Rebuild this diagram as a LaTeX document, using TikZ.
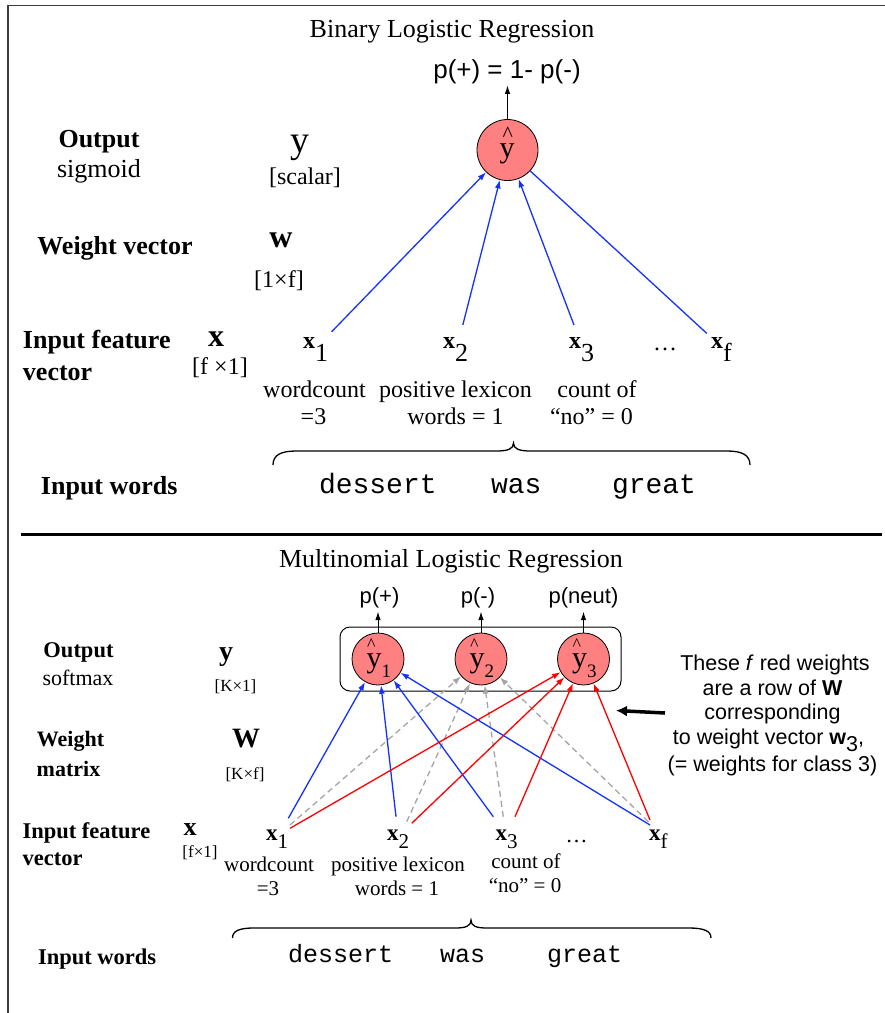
\documentclass[tikz,border=0pt]{standalone}
\usepackage{fontspec}
\setmainfont{Liberation Serif}
\setsansfont{Liberation Sans}
\setmonofont{Liberation Mono}
\usetikzlibrary{arrows.meta,calc}
\newcommand\fsz[1]{\fontsize{#1}{#1}\selectfont}
\definecolor{salmon}{RGB}{255,128,128}
\definecolor{lblue}{RGB}{20,50,255}
\definecolor{lred}{RGB}{255,0,0}
\definecolor{lgray}{RGB}{165,165,165}
\definecolor{frame}{RGB}{60,60,60}
\begin{document}
\begin{tikzpicture}[x=1pt,y=-1pt,
  t/.style={inner sep=0pt,outer sep=0pt,anchor=base},
  tw/.style={inner sep=0pt,outer sep=0pt,anchor=base west},
  neuron/.style={circle,draw=black,line width=0.8pt,fill=salmon,inner sep=0pt},
  tipsmall/.style={-{Latex[length=8.5pt,width=6pt]}},
  wblue/.style={draw=lblue,line width=1.3pt},
  wred/.style={draw=lred,line width=1.3pt},
  wgray/.style={draw=lgray,line width=1.3pt,dash pattern=on 6pt off 4pt},
  outarrow/.style={draw=black,line width=1pt,-{Latex[length=8.5pt,width=5.5pt]}},
  bracepath/.style={draw=black,line width=1.3pt}
]
\useasboundingbox (0,0) rectangle (885,1013);
% frame and separator
\draw[frame,line width=1.5pt] (8,1013) -- (8,5.5) -- (885,5.5);
\draw[black,line width=3pt] (21,534.5) -- (882,534.5);

%================ TOP: Binary =================
\node[t,font=\fsz{26}] (title1) at (452,37) {Binary Logistic Regression};
\node[t,font=\sffamily\fsz{26}] (pout) at (507,78) {p(+) = 1- p(-)};
\node[neuron,minimum size=61pt] (yh) at (507.5,150) {};
\node[tw,font=\fsz{30}] (yhy) at (499.5,157) {\makebox[0pt][l]{\hspace{3.2pt}\raisebox{15.5pt}{\fsz{22}\textasciicircum}}y};
\draw[outarrow] (yh.north) -- ([yshift=-2pt]yh.north |- pout.south);

\node[t,font=\fsz{26}\bfseries] (lout) at (99,147) {Output};
\node[t,font=\fsz{26}] (lsig) at (99,177) {sigmoid};
\node[t,font=\fsz{38}] (ly) at (300,152) {y};
\node[t,font=\fsz{24}] (lscal) at (305,184) {[scalar]};
\node[t,font=\fsz{26}\bfseries] (lwv) at (115,254) {Weight vector};
\node[t,font=\fsz{32}\bfseries] (lw) at (281,247) {w};
\node[t,font=\fsz{24}] (l1f) at (279,287) {[1×f]};
\node[tw,font=\fsz{26}\bfseries] (lif) at (23,348) {Input feature};
\node[tw,font=\fsz{26}\bfseries] (lvec) at (23,380) {vector};
\node[t,font=\fsz{32}\bfseries] (lx) at (216,346) {x};
\node[t,font=\fsz{24}] (lf1) at (220,374) {[f ×1]};

\node[tw,font=\fsz{24}] (x1) at (303,348) {\textbf{x}\raisebox{-13pt}{\fsz{26}1}};
\node[tw,font=\fsz{24}] (x2) at (443,348) {\textbf{x}\raisebox{-13pt}{\fsz{26}2}};
\node[tw,font=\fsz{24}] (x3) at (569,348) {\textbf{x}\raisebox{-13pt}{\fsz{26}3}};
\node[t,font=\fsz{24}] (xdots) at (665,350) {…};
\node[tw,font=\fsz{24}] (xf) at (711,348) {\textbf{x}\raisebox{-13pt}{\fsz{26}f}};

\node[t,font=\fsz{24}] (d1a) at (314.5,397) {wordcount};
\node[t,font=\fsz{24}] (d1b) at (313.5,424) {=3};
\node[t,font=\fsz{24}] (d2a) at (455.5,397) {positive lexicon};
\node[t,font=\fsz{24}] (d2b) at (455.5,424) {words = 1};
\node[t,font=\fsz{24}] (d3a) at (597,397) {count of};
\node[t,font=\fsz{24}] (d3b) at (591.5,424) {“no” = 0};

\draw[bracepath] (273,465) .. controls (273,455) and (281,451) .. (296,451) -- (496,451)
  .. controls (508,451) and (513.5,449) .. (513.5,443)
  .. controls (513.5,449) and (519,451) .. (531,451) -- (727,451)
  .. controls (742,451) and (750,455) .. (750,465);

\node[tw,font=\fsz{26}\bfseries] (liw) at (41,494) {Input words};
\node[tw,font=\ttfamily\fsz{28}] (w1) at (319,493) {dessert};
\node[tw,font=\ttfamily\fsz{28}] (w2) at (491,493) {was};
\node[tw,font=\ttfamily\fsz{28}] (w3) at (612,493) {great};

\coordinate (s1) at (331.7,331.7);
\coordinate (s2) at (462.8,325);
\coordinate (s3) at (574,325);
\coordinate (sf) at (706.7,333.3);
\draw[wblue,tipsmall] (s1) -- (yh);
\draw[wblue,tipsmall] (s2) -- (yh);
\draw[wblue,tipsmall] (s3) -- (yh);
\draw[wblue] (sf) -- (yh);

%================ BOTTOM: Multinomial =================
\node[t,font=\fsz{26}] (title2) at (451,567) {Multinomial Logistic Regression};
\node[t,font=\sffamily\fsz{22}] (p1) at (379.5,603) {p(+)};
\node[t,font=\sffamily\fsz{22}] (p2) at (478,603) {p(-)};
\node[t,font=\sffamily\fsz{22}] (p3) at (583.5,603) {p(neut)};

\draw[black,line width=1pt,rounded corners=10pt] (340,627) rectangle (621,691);
\node[neuron,minimum size=52pt] (o1) at (378,659) {};
\node[neuron,minimum size=52pt] (o2) at (481,659) {};
\node[neuron,minimum size=52pt] (o3) at (583.5,659) {};
\foreach \n/\c/\k in {o1/378/1,o2/481/2,o3/583.5/3}{
  \node[tw,font=\fsz{30}] (\n y) at (\c-11.5,667)
    {\makebox[0pt][l]{\hspace{0.5pt}\raisebox{17pt}{\fsz{18}\textasciicircum}}y\raisebox{-10pt}{\fsz{19}\k}};
}
\draw[outarrow] (o1.north) -- ([yshift=-4pt]o1.north |- p1.south);
\draw[outarrow] (o2.north) -- ([yshift=-4pt]o2.north |- p2.south);
\draw[outarrow] (o3.north) -- ([yshift=-4pt]o3.north |- p3.south);

\node[t,font=\fsz{22.5}\bfseries] (bout) at (78.5,657) {Output};
\node[t,font=\fsz{22}] (bsoft) at (78,685) {softmax};
\node[t,font=\fsz{28}\bfseries] (by) at (226,660) {y};
\node[t,font=\fsz{17}] (bk1) at (235.5,691) {[K×1]};
\node[t,font=\fsz{22}\bfseries] (bwe) at (70.5,746) {Weight};
\node[t,font=\fsz{22}\bfseries] (bma) at (68.5,776) {matrix};
\node[t,font=\fsz{28}\bfseries] (bW) at (246,747) {W};
\node[t,font=\fsz{17}] (bkf) at (245,779) {[K×f]};
\node[tw,font=\fsz{22.5}\bfseries] (bif) at (22.6,838) {Input feature};
\node[tw,font=\fsz{22.5}\bfseries] (bvec) at (22.6,865) {vector};
\node[t,font=\fsz{26}\bfseries] (bx) at (190,835) {x};
\node[t,font=\fsz{17}] (bf1) at (200,857) {[f×1]};

\node[tw,font=\fsz{23}] (bx1) at (266,840) {\textbf{x}\raisebox{-8pt}{\fsz{21}1}};
\node[tw,font=\fsz{23}] (bx2) at (387,840) {\textbf{x}\raisebox{-8pt}{\fsz{21}2}};
\node[tw,font=\fsz{23}] (bx3) at (495.5,840) {\textbf{x}\raisebox{-8pt}{\fsz{21}3}};
\node[t,font=\fsz{22}] (bdots) at (576.5,842) {…};
\node[tw,font=\fsz{23}] (bxf) at (649,840) {\textbf{x}\raisebox{-8pt}{\fsz{21}f}};

\node[t,font=\fsz{21}] (e1a) at (269,871) {wordcount};
\node[t,font=\fsz{21}] (e1b) at (268,895) {=3};
\node[t,font=\fsz{21}] (e2a) at (398,871) {positive lexicon};
\node[t,font=\fsz{21}] (e2b) at (397,895) {words = 1};
\node[t,font=\fsz{21}] (e3a) at (526,868) {count of};
\node[t,font=\fsz{21}] (e3b) at (525,892) {“no” = 0};

\draw[bracepath] (232.5,938) .. controls (232.5,931) and (239,928) .. (254,928) -- (455,928)
  .. controls (466,928) and (471,926) .. (471,920)
  .. controls (471,926) and (476,928) .. (487,928) -- (689,928)
  .. controls (704,928) and (711,931) .. (711,938);

\node[tw,font=\fsz{22.5}\bfseries] (biw) at (38,964) {Input words};
\node[tw,font=\ttfamily\fsz{25}] (v1) at (288,962) {dessert};
\node[tw,font=\ttfamily\fsz{25}] (v2) at (440,962) {was};
\node[tw,font=\ttfamily\fsz{25}] (v3) at (547,962) {great};

% connectors
\coordinate (b1) at (288.3,818.3);  \coordinate (g1) at (290,825);    \coordinate (r1) at (290,828.3);
\coordinate (b2) at (396,816.7);    \coordinate (g2) at (406.7,821.7);\coordinate (r2) at (411.7,823.3);
\coordinate (b3) at (493.3,816.7);  \coordinate (g3) at (503.3,816.7);\coordinate (r3) at (515,816.7);
\coordinate (bf) at (650,825);      \coordinate (gf) at (648.3,821.7);\coordinate (rf) at (650,820);
\foreach \s in {g1,g2,g3,gf}{ \draw[wgray,tipsmall] (\s) -- (o2); }
\foreach \s in {b1,b2,b3,bf}{ \draw[wblue,tipsmall] (\s) -- (o1); }
\foreach \s in {r1,r2,r3,rf}{ \draw[wred,tipsmall] (\s) -- (o3); }

% right annotation
\node[t,font=\sffamily\fsz{21.5}] (n1) at (775,670) {These \textit{f} red weights};
\node[t,font=\sffamily\fsz{21.5}] (n2) at (772.5,695) {are a row of \textbf{W}};
\node[t,font=\sffamily\fsz{21.5}] (n3) at (772.5,719) {corresponding};
\node[t,font=\sffamily\fsz{21.5}] (n4) at (768.5,744) {to weight vector \textbf{w}\raisebox{-7pt}{3},};
\node[t,font=\sffamily\fsz{21.5}] (n5) at (772.5,771) {(= weights for class 3)};
\coordinate (atail) at (665,713);
\coordinate (atip) at (616,710.5);
\draw[black,line width=3.5pt,-{Latex[length=11pt,width=11pt]}] (atail) -- (atip);
\end{tikzpicture}
\end{document}
